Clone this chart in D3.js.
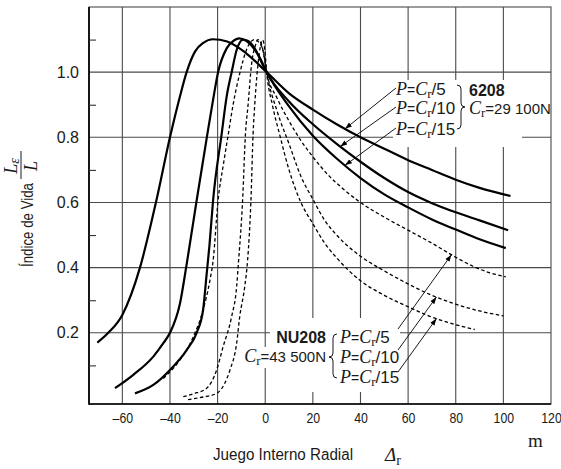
<!DOCTYPE html>
<html><head><meta charset="utf-8">
<script src="https://cdn.jsdelivr.net/npm/d3@7"></script>
<style>body{margin:0;background:#fff} svg{display:block}</style>
</head><body><svg id="c" width="561" height="469"></svg>
<script>
// ---------- data ----------
const xTicks = [-60,-40,-20,0,20,40,60,80,100,120];
const xGrid  = [-60,-40,-20,0,20,40,60,80,100];
const yTicks = [0.2,0.4,0.6,0.8,1.0];
const yMinor = [0.1,0.3,0.5,0.7,0.9,1.1];
const loadDivisors = [5,10,15];
const bearings = ["6208","NU208"];
const ratings = ["29 100N","43 500N"];

// 6208 (solid)
const s6208_P5 = [[-70.5,0.17],[-65.9,0.2],[-60,0.255],[-52.6,0.40],[-45.9,0.6],[-40,0.8],[-36,0.92],[-33,1.0],[-29.5,1.063],[-26,1.09],[-22,1.101],[-16,1.094],[-8,1.058],[0.6,1.0],[10,0.935],[20,0.885],[30,0.84],[40,0.80],[50,0.765],[60,0.73],[70,0.70],[80,0.67],[90,0.645],[103,0.62]];
const s6208_P10 = [[-63.1,0.03],[-55.4,0.071],[-47,0.127],[-42.8,0.168],[-40,0.20],[-35.8,0.29],[-33,0.41],[-28.8,0.606],[-24.3,0.81],[-21.9,0.915],[-19.8,1.0],[-16.2,1.073],[-13,1.098],[-11,1.104],[-8,1.096],[-5,1.075],[-2,1.04],[0.6,1.0],[10,0.91],[20,0.84],[30,0.78],[40,0.725],[50,0.675],[60,0.632],[70,0.598],[80,0.57],[90,0.545],[102,0.515]];
const s6208_P15 = [[-54.7,0.014],[-47,0.04],[-40,0.086],[-33,0.147],[-28.8,0.20],[-26.1,0.27],[-24.6,0.38],[-23.4,0.47],[-21.9,0.606],[-18.3,0.81],[-16.2,0.925],[-14.1,1.0],[-12,1.068],[-9.3,1.10],[-7,1.095],[-4,1.068],[-1.5,1.03],[0.6,1.0],[10,0.895],[20,0.805],[30,0.735],[40,0.675],[50,0.625],[60,0.585],[70,0.548],[80,0.517],[90,0.487],[101,0.46]];

// NU208 (dashed)
const sNU208_P5 = [[-42.8,0.06],[-35.8,0.117],[-30.2,0.188],[-26.1,0.27],[-23.2,0.362],[-21.9,0.42],[-19.8,0.606],[-17.5,0.72],[-15.5,0.81],[-13.5,0.90],[-10.7,0.996],[-7.9,1.068],[-4.4,1.10],[-2.5,1.09],[-0.9,1.065],[0.6,1.0],[5,0.92],[10,0.85],[15,0.79],[20,0.74],[27,0.68],[33,0.64],[40,0.60],[50,0.555],[60,0.515],[70,0.475],[80,0.432],[87,0.405],[94,0.385],[101,0.372]];
const sNU208_P10 = [[-34.4,0.004],[-30,0.013],[-24.6,0.03],[-20.4,0.086],[-17.7,0.157],[-14.1,0.25],[-12,0.342],[-11.2,0.42],[-9.5,0.606],[-8.3,0.81],[-7.2,0.90],[-5.7,1.027],[-4.2,1.08],[-3,1.10],[-1.8,1.09],[-0.5,1.05],[0.6,1.0],[5,0.88],[10,0.78],[15,0.68],[20,0.61],[25,0.545],[30,0.50],[40,0.435],[50,0.39],[60,0.35],[70,0.315],[80,0.288],[90,0.267],[100,0.252]];
const sNU208_P15 = [[-32.4,-0.005],[-26,0.003],[-20.4,0.014],[-17,0.045],[-14.8,0.086],[-12,0.168],[-10.7,0.25],[-8.6,0.342],[-7.4,0.423],[-6.0,0.606],[-5.1,0.81],[-4.4,0.90],[-3.0,1.027],[-2,1.08],[-1.1,1.099],[-0.2,1.07],[0.6,1.0],[3,0.90],[6,0.81],[10,0.70],[15,0.60],[20,0.535],[25,0.475],[30,0.43],[40,0.36],[50,0.315],[60,0.28],[70,0.248],[80,0.225],[88,0.21]];

// x positions where the leader arrows touch each curve
const arrowX6208 = [33.5, 31.5, 33.5];
const arrowXNU208 = [78.2, 71.9, 71.9];

// ---------- fonts ----------
function hasFont(f){const c=document.createElement("canvas").getContext("2d");const s="mmmmmwwwwiiii0123456789";c.font="40px monospace";const a=c.measureText(s).width;c.font="40px '"+f+"', monospace";const b=c.measureText(s).width;return a!==b;}
const HAS_NARROW = hasFont("Liberation Sans Narrow");
const NARROW = HAS_NARROW ? "'Liberation Sans Narrow'" : "'Liberation Sans', Arial, sans-serif";
const NSCALE = HAS_NARROW ? 1 : 0.82;
const SANS = "'Liberation Sans', Arial, sans-serif";
const SERIF = "'Liberation Serif', 'Times New Roman', serif";
const TXT = "#1a1a1a";

// ---------- scales ----------
const svg = d3.select("#c");
const x = d3.scaleLinear().domain([-74,120]).range([89,551]);
const y = d3.scaleLinear().domain([-0.0185,1.2]).range([404,7]);

// grid
const grid = svg.append("g").attr("stroke","#4a4a4a").attr("stroke-width",1.1);
grid.selectAll(".gx").data(xGrid).join("line")
  .attr("x1",d=>x(d)).attr("x2",d=>x(d)).attr("y1",y.range()[1]).attr("y2",y.range()[0]);
grid.selectAll(".gy").data(yTicks).join("line")
  .attr("y1",d=>y(d)).attr("y2",d=>y(d)).attr("x1",x.range()[0]).attr("x2",x.range()[1]);
// frame
svg.append("rect").attr("x",x.range()[0]).attr("y",y.range()[1])
  .attr("width",x.range()[1]-x.range()[0]).attr("height",y.range()[0]-y.range()[1])
  .attr("fill","none").attr("stroke","#4a4a4a").attr("stroke-width",1.1);

// white label backgrounds (break the grid like the original)
const bg = svg.append("g").attr("fill","#fff");
bg.append("rect").attr("x",393).attr("y",80).attr("width",129).attr("height",67);
bg.append("rect").attr("x",460).attr("y",80).attr("width",89).attr("height",42);
bg.append("rect").attr("x",270).attr("y",318).attr("width",130).attr("height",74);
bg.append("rect").attr("x",248).attr("y",347).attr("width",24).attr("height",21);

// axes lines (left + bottom heavier)
svg.append("line").attr("x1",x.range()[0]).attr("x2",x.range()[0]).attr("y1",y.range()[1]).attr("y2",y.range()[0]+0.8).attr("stroke","#000").attr("stroke-width",1.7);
svg.append("line").attr("x1",x.range()[0]).attr("x2",x.range()[1]).attr("y1",y.range()[0]).attr("y2",y.range()[0]).attr("stroke","#000").attr("stroke-width",1.7);

// minor inward ticks on left
const minor = svg.append("g").attr("transform",`translate(${x.range()[0]},0)`)
  .call(d3.axisRight(y).tickValues(yMinor).tickSize(7).tickFormat(""));
minor.select(".domain").remove();
minor.selectAll("line").attr("stroke","#333").attr("stroke-width",1.1);

// axis labels
const xa = svg.append("g").attr("transform",`translate(0,${y.range()[0]})`)
  .call(d3.axisBottom(x).tickValues(xTicks).tickSize(0).tickPadding(8)
  .tickFormat(d=> d<0 ? "\u2013"+Math.abs(d) : String(d)));
xa.select(".domain").remove();
xa.selectAll("text").attr("font-family",NARROW).attr("font-size",15).attr("fill",TXT)
  .attr("transform",`scale(${NSCALE},1)`);

const ya = svg.append("g").attr("transform",`translate(${x.range()[0]},0)`)
  .call(d3.axisLeft(y).tickValues(yTicks).tickSize(0).tickPadding(10).tickFormat(d3.format(".1f")));
ya.select(".domain").remove();
ya.selectAll("text").attr("font-family",SANS).attr("font-size",16).attr("fill",TXT);

// ---------- curves ----------
const line = d3.line().x(d=>x(d[0])).y(d=>y(d[1])).curve(d3.curveMonotoneX);
const solid = [s6208_P5, s6208_P10, s6208_P15];
const dashed = [sNU208_P5, sNU208_P10, sNU208_P15];
svg.append("g").selectAll("path").data(solid).join("path")
  .attr("d",line).attr("fill","none").attr("stroke","#000").attr("stroke-width",2.2).attr("stroke-linejoin","round");
svg.append("g").selectAll("path").data(dashed).join("path")
  .attr("d",line).attr("fill","none").attr("stroke","#000").attr("stroke-width",1.3).attr("stroke-dasharray","3.5,2.5");

// ---------- annotations ----------
function interp(series, xv){
  for(let i=1;i<series.length;i++){
    const a=series[i-1], b=series[i];
    if(xv>=a[0] && xv<=b[0]){const t=(xv-a[0])/(b[0]-a[0]);return a[1]+t*(b[1]-a[1]);}
  }
  return series[series.length-1][1];
}
svg.append("defs").append("marker").attr("id","ah").attr("viewBox","0 0 10 10")
  .attr("refX",10).attr("refY",5).attr("markerWidth",7).attr("markerHeight",7)
  .attr("markerUnits","userSpaceOnUse").attr("orient","auto")
  .append("path").attr("d","M0,1.5 L10,5 L0,8.5 Z").attr("fill","#000");

function arrow(x1,y1,x2,y2){
  svg.append("line").attr("x1",x1).attr("y1",y1).attr("x2",x2).attr("y2",y2)
    .attr("stroke","#000").attr("stroke-width",0.9).attr("marker-end","url(#ah)");
}
function pLabel(px,py,div,anchor){
  const t = svg.append("text").attr("x",px).attr("y",py).attr("fill",TXT).attr("text-anchor",anchor||"start");
  t.append("tspan").attr("font-family",SERIF).attr("font-style","italic").attr("font-size",18).text("P");
  t.append("tspan").attr("font-family",SANS).attr("font-size",14).text("=");
  t.append("tspan").attr("font-family",SERIF).attr("font-style","italic").attr("font-size",18).text("C");
  t.append("tspan").attr("font-family",SERIF).attr("font-size",13).attr("dy",3).text("r");
  t.append("tspan").attr("font-family",SANS).attr("font-size",17).attr("dy",-3).text("/"+div);
  return t;
}
function crLabel(px,py,rating,anchor){
  const t = svg.append("text").attr("x",px).attr("y",py).attr("fill",TXT).attr("text-anchor",anchor||"start");
  t.append("tspan").attr("font-family",SERIF).attr("font-style","italic").attr("font-size",18).text("C");
  t.append("tspan").attr("font-family",SERIF).attr("font-size",13).attr("dy",3).text("r");
  t.append("tspan").attr("font-family",SANS).attr("font-size",15).attr("dy",-3).text("="+rating);
  return t;
}

// 6208 block
const b1y = [95,114,135];
loadDivisors.forEach((d,i)=>{
  pLabel(396,b1y[i],d);
  const tx = arrowX6208[i], tyv = interp(solid[i],tx);
  arrow(396,b1y[i]-7,x(tx),y(tyv));
});
svg.append("path").attr("d","M457,85 q4,0 4,4 L461,103 q0,4 4,4 q-4,0 -4,4 L461,125 q0,4 -4,4")
  .attr("fill","none").attr("stroke","#000").attr("stroke-width",0.9);
svg.append("text").attr("x",469).attr("y",96).attr("font-family",SANS).attr("font-weight","bold")
  .attr("font-size",16).attr("fill",TXT).text(bearings[0]);
crLabel(469,114,ratings[0]);

// NU208 block
const b2y = [343,363,383];
const b2start = [[398,329],[398,350],[398,372]];
loadDivisors.forEach((d,i)=>{
  pLabel(340,b2y[i],d);
  const tx = arrowXNU208[i], tyv = interp(dashed[i],tx);
  arrow(b2start[i][0],b2start[i][1],x(tx),y(tyv));
});
svg.append("path").attr("d","M337,334 q-4,0 -4,4 L333,353 q0,4 -4,4 q4,0 4,4 L333,374 q0,4 4,4")
  .attr("fill","none").attr("stroke","#000").attr("stroke-width",0.9);
svg.append("text").attr("x",326).attr("y",343).attr("text-anchor","end").attr("font-family",SANS)
  .attr("font-weight","bold").attr("font-size",16).attr("fill",TXT).text(bearings[1]);
crLabel(326,362,ratings[1],"end");

// ---------- titles ----------
svg.append("text").attr("x",213).attr("y",460).attr("font-family",NARROW).attr("font-size",16)
  .attr("fill",TXT).attr("textLength",140).attr("lengthAdjust","spacingAndGlyphs").text("Juego Interno Radial");
const dr = svg.append("text").attr("x",385).attr("y",461).attr("fill",TXT);
dr.append("tspan").attr("font-family",SERIF).attr("font-style","italic").attr("font-size",19).text("\u0394");
dr.append("tspan").attr("font-family",SERIF).attr("font-size",14).attr("dy",4).text("r");
svg.append("text").attr("x",528).attr("y",447).attr("font-family",SERIF).attr("font-size",19)
  .attr("fill",TXT).text("m");

const yt = svg.append("g").attr("transform","translate(33,267) rotate(-90)");
yt.append("text").attr("x",0).attr("y",0).attr("font-family",NARROW).attr("font-size",16)
  .attr("fill",TXT).attr("textLength",84).attr("lengthAdjust","spacingAndGlyphs").text("\u00cdndice de Vida");
const num = yt.append("text").attr("x",101).attr("y",-16).attr("text-anchor","middle").attr("fill",TXT);
num.append("tspan").attr("font-family",SERIF).attr("font-style","italic").attr("font-size",18).text("L");
num.append("tspan").attr("font-family",SERIF).attr("font-style","italic").attr("font-size",14).attr("dy",2).text("\u03b5");
yt.append("line").attr("x1",88).attr("x2",116).attr("y1",-12).attr("y2",-12).attr("stroke","#000").attr("stroke-width",0.9);
yt.append("text").attr("x",101).attr("y",4).attr("text-anchor","middle").attr("font-family",SERIF)
  .attr("font-style","italic").attr("font-size",18).attr("fill",TXT).text("L");
</script></body></html>
